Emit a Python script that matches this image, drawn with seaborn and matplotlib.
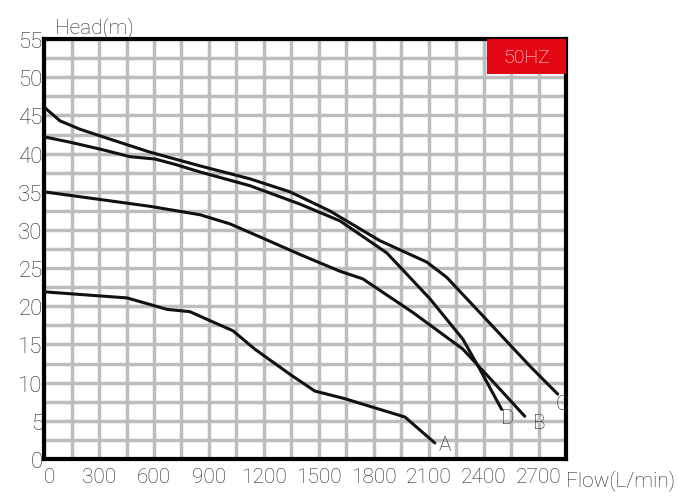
import matplotlib
matplotlib.use("Agg")
import matplotlib.pyplot as plt
import seaborn as sns
import pandas as pd
from matplotlib.ticker import MultipleLocator
from matplotlib.patches import Rectangle

a_flow = [0, 453, 671, 796, 889, 1031, 1150, 1342, 1478, 1642, 1833, 1970, 2133]
a_head = [21.9, 21.1, 19.6, 19.3, 18.3, 16.8, 14.4, 11.1, 8.9, 7.9, 6.5, 5.5, 2.1]
b_flow = [0, 305, 578, 851, 1015, 1178, 1396, 1615, 1740, 2013, 2286, 2471, 2624]
b_head = [35.0, 34.0, 33.1, 32.0, 30.8, 29.1, 26.8, 24.6, 23.6, 19.2, 14.4, 9.6, 5.6]
c_flow = [0, 87, 196, 360, 578, 851, 1124, 1342, 1560, 1833, 2089, 2198, 2378, 2651, 2804]
c_head = [46.1, 44.3, 43.2, 41.9, 40.2, 38.4, 36.7, 35.0, 32.5, 28.6, 25.8, 23.8, 19.2, 12.2, 8.5]
d_flow = [0, 142, 305, 470, 605, 715, 851, 1124, 1396, 1615, 1871, 2106, 2286, 2378, 2498]
d_head = [42.2, 41.5, 40.6, 39.6, 39.3, 38.6, 37.6, 35.8, 33.4, 31.2, 27.0, 21.0, 15.7, 11.8, 6.5]
curve_names = ["A", "B", "C", "D"]
label_pos = {"A": (2190, 1.9), "B": (2705, 4.8), "C": (2830, 7.3), "D": (2530, 5.5)}
x_ticks = [0, 300, 600, 900, 1200, 1500, 1800, 2100, 2400, 2700]
y_ticks = [0, 5, 10, 15, 20, 25, 30, 35, 40, 45, 50, 55]

sns.set_style("white")
plt.rcParams['font.family'] = ['Roboto', 'DejaVu Sans']

fig = plt.figure(figsize=(6.78, 5.02), dpi=100)
ax = fig.add_axes([0.065, 0.0837, 0.77, 0.8363])

frames = []
for n, fx, fy in zip(curve_names, [a_flow, b_flow, c_flow, d_flow], [a_head, b_head, c_head, d_head]):
    frames.append(pd.DataFrame({"flow": fx, "head": fy, "curve": n}))
df = pd.concat(frames)
sns.lineplot(data=df, x="flow", y="head", hue="curve", units="curve", estimator=None,
             sort=False, palette=["#111111"] * 4, linewidth=2.2, legend=False, ax=ax, zorder=3)

ax.set_xlim(0, 2850)
ax.set_ylim(0, 55)
ax.xaxis.set_minor_locator(MultipleLocator(150))
ax.yaxis.set_minor_locator(MultipleLocator(2.5))
ax.set_xticks(x_ticks)
ax.set_yticks(y_ticks)
ax.set_xticklabels([str(v) for v in x_ticks], fontsize=15, fontweight="light")
ax.set_yticklabels([str(v) for v in y_ticks], fontsize=16, fontweight="light")
ax.grid(which="both", color="#bdbdbd", linewidth=2.5, zorder=0)
ax.set_axisbelow(True)
for s in ax.spines.values():
    s.set_linewidth(3)
    s.set_color("black")
ax.tick_params(which="major", direction="in", length=6, width=3)
ax.tick_params(axis="x", which="major", pad=6)
ax.tick_params(axis="y", which="major", pad=1)
ax.tick_params(which="minor", direction="in", length=4, width=2)
ax.set_xlabel("")
ax.set_ylabel("")
# nudge the "0" x label right so it clears the y "0"
ax.get_xticklabels()[0].set_horizontalalignment("left")

for n, (lx, ly) in label_pos.items():
    ax.text(lx, ly, n, fontsize=15, fontweight="light", ha="center", va="center", zorder=4)

ax.text(0.02, 1.005, "Head(m)", transform=ax.transAxes, fontsize=15, fontweight="light",
        ha="left", va="bottom")
ax.text(1.0, -0.025, "Flow(L/min)", transform=ax.transAxes, fontsize=15, fontweight="light",
        ha="left", va="top")
ax.add_patch(Rectangle((0.849, 0.917), 0.151, 0.083, transform=ax.transAxes,
                       facecolor="#e30613", edgecolor="none", zorder=5, clip_on=False))
ax.text(0.9245, 0.9585, "50HZ", transform=ax.transAxes, fontsize=14, fontweight="light",
        color="white", ha="center", va="center", zorder=6)

fig.savefig("out.png", dpi=100)
